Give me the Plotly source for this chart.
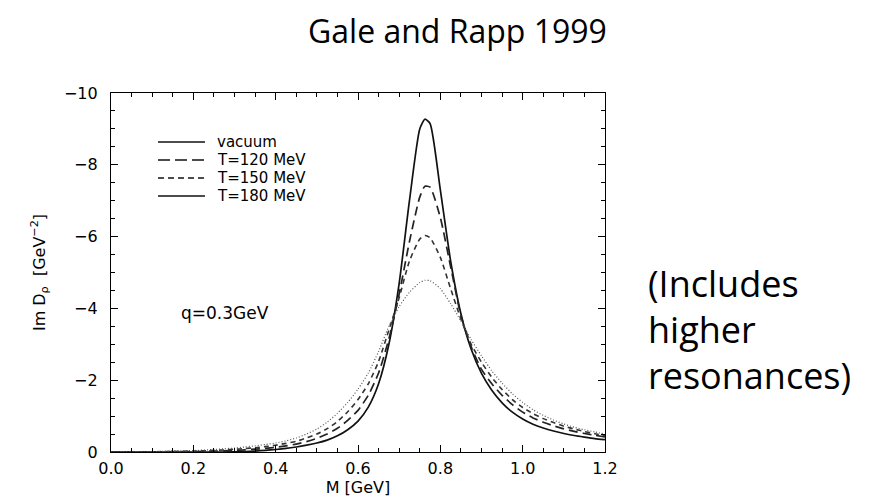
import plotly.graph_objects as go

# ---- data ----
M = [0.0, 0.1, 0.2, 0.25, 0.275, 0.3, 0.325, 0.35, 0.375, 0.4, 0.425, 0.45, 0.475, 0.5,
     0.525, 0.55, 0.575, 0.6, 0.625, 0.65, 0.675, 0.7, 0.725, 0.75, 0.7625, 0.775, 0.8,
     0.825, 0.85, 0.875, 0.9, 0.925, 0.95, 0.975, 1.0, 1.025, 1.05, 1.075, 1.1, 1.125,
     1.15, 1.175, 1.2]

vacuum = [0, 0, 0, 0, 0, -0.004, -0.013, -0.027, -0.045, -0.07, -0.10, -0.14, -0.19, -0.25,
          -0.33, -0.45, -0.62, -0.86, -1.25, -1.9, -3.0, -4.7, -7.0, -9.0, -9.27, -9.15, -7.3,
          -5.32, -3.85, -2.86, -2.19, -1.72, -1.37, -1.11, -0.92, -0.775, -0.67, -0.585, -0.515, -0.46,
          -0.415, -0.375, -0.345]

t120 = [0, -0.004, -0.014, -0.025, -0.032, -0.04, -0.058, -0.08, -0.10, -0.13, -0.17, -0.22, -0.29, -0.38,
        -0.50, -0.66, -0.88, -1.16, -1.58, -2.2, -3.15, -4.4, -5.86, -7.10, -7.40, -7.38, -6.53,
        -5.16, -3.80, -2.93, -2.3, -1.9, -1.58, -1.32, -1.11, -0.95, -0.83, -0.73, -0.645, -0.575,
        -0.515, -0.465, -0.42]

t150 = [0, -0.007, -0.025, -0.045, -0.058, -0.075, -0.095, -0.12, -0.15, -0.19, -0.24, -0.3, -0.39, -0.5,
        -0.65, -0.85, -1.12, -1.46, -1.9, -2.52, -3.4, -4.3, -5.32, -5.93, -6.03, -5.97, -5.42,
        -4.55, -3.70, -3.0, -2.5, -2.08, -1.74, -1.46, -1.24, -1.07, -0.93, -0.82, -0.72, -0.64,
        -0.57, -0.51, -0.46]

t180 = [0, -0.01, -0.04, -0.07, -0.09, -0.11, -0.14, -0.17, -0.21, -0.25, -0.31, -0.39, -0.5, -0.64,
        -0.83, -1.08, -1.38, -1.75, -2.2, -2.8, -3.5, -4.05, -4.45, -4.72, -4.78, -4.77, -4.55,
        -4.13, -3.65, -3.13, -2.68, -2.26, -1.92, -1.62, -1.38, -1.18, -1.02, -0.89, -0.78, -0.69,
        -0.62, -0.56, -0.5]

legend_labels = ["vacuum", "T=120 MeV", "T=150 MeV", "T=180 MeV"]
x_ticks = [0.0, 0.2, 0.4, 0.6, 0.8, 1.0, 1.2]
y_ticks = [0, -2, -4, -6, -8, -10]

TICKFONT = "DejaVu Sans, Liberation Sans, sans-serif"
SLIDEFONT = "Open Sans, Lato, sans-serif"

fig = go.Figure()

curve_styles = [
    dict(color="#111111", width=1.7, dash="solid"),
    dict(color="#222222", width=1.7, dash="9px,5px"),
    dict(color="#333333", width=1.6, dash="5px,4px"),
    dict(color="#555555", width=1.2, dash="1px,2px"),
]
for ys, ln, lab in zip([vacuum, t120, t150, t180], curve_styles, legend_labels):
    fig.add_trace(go.Scatter(x=M, y=ys, mode="lines", name=lab,
                             line=dict(shape="spline", smoothing=0.6, **ln),
                             showlegend=False, hoverinfo="skip"))

PX_L, PX_R, PX_T, PX_B = 111, 605, 93, 452
def px2paper_x(px):
    return (px - PX_L) / (PX_R - PX_L)
def px2paper_y(py):
    return (PX_B - py) / (PX_B - PX_T)

# hand-drawn legend (the original shows a solid sample for T=180 MeV)
legend_dashes = ["solid", "12px,5px", "6px,4px", "solid"]
legend_rows_px = [142, 160, 178, 196]
for lab, dsh, rowpx in zip(legend_labels, legend_dashes, legend_rows_px):
    yp = px2paper_y(rowpx)
    fig.add_shape(type="line", xref="paper", yref="paper", x0=px2paper_x(158), x1=px2paper_x(205),
                  y0=yp, y1=yp, line=dict(color="#111111", width=1.6, dash=dsh))
    fig.add_annotation(x=px2paper_x(215), y=yp, xref="paper", yref="paper", text=lab,
                       showarrow=False, xanchor="left", yanchor="middle",
                       font=dict(family=TICKFONT, size=15, color="black"))

axis_common = dict(
    showline=True, linecolor="black", linewidth=1.2, mirror="ticks",
    ticks="inside", ticklen=7, tickwidth=1, tickcolor="black",
    showgrid=False, zeroline=False,
    tickfont=dict(family=TICKFONT, size=16, color="black"),
)

fig.update_xaxes(range=[0, 1.2], tickvals=x_ticks, tickformat=".1f", ticklabelstandoff=2,
                 minor=dict(dtick=0.05, ticks="inside", ticklen=4, tickcolor="black", showgrid=False),
                 title=dict(text="M [GeV]", font=dict(family=TICKFONT, size=16, color="black"), standoff=2),
                 **axis_common)
fig.update_yaxes(range=[0, -10], tickvals=y_ticks, ticklabelstandoff=9,
                 minor=dict(dtick=0.5, ticks="inside", ticklen=4, tickcolor="black", showgrid=False),
                 title=dict(text="Im D<sub>ρ</sub>  [GeV<sup>−2</sup>]",
                            font=dict(family=TICKFONT, size=16, color="black"), standoff=14),
                 **axis_common)

fig.add_annotation(x=0.278, y=-3.88, xref="x", yref="y", text="q=0.3GeV", showarrow=False,
                   xanchor="center", yanchor="middle",
                   font=dict(family=TICKFONT, size=17, color="black"))

fig.add_annotation(x=px2paper_x(457), y=px2paper_y(31), xref="paper", yref="paper",
                   text="Gale and Rapp 1999", showarrow=False, xanchor="center", yanchor="middle",
                   font=dict(family=SLIDEFONT, size=32, color="black"))

for txt, ypx in [("(Includes", 283), ("higher", 329), ("resonances)", 375)]:
    fig.add_annotation(x=px2paper_x(646), y=px2paper_y(ypx), xref="paper", yref="paper",
                       text=txt, showarrow=False, xanchor="left", yanchor="middle",
                       font=dict(family=SLIDEFONT, size=36, color="black"))

fig.update_layout(
    width=872, height=503,
    margin=dict(l=PX_L, r=872 - PX_R, t=PX_T, b=503 - PX_B),
    paper_bgcolor="white", plot_bgcolor="white",
    showlegend=False,
)

fig.write_html("out.html")
